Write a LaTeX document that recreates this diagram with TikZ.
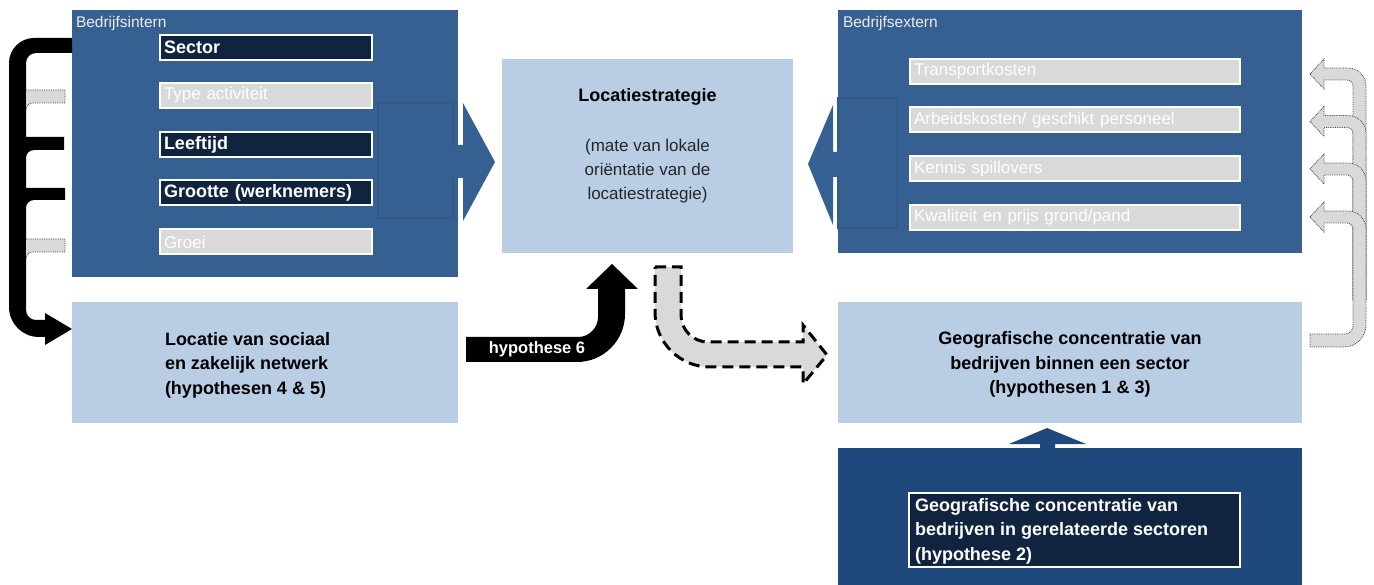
\documentclass[tikz,border=0pt]{standalone}
\usepackage{fontspec}
\setmainfont{Liberation Sans}
\definecolor{midblue}{HTML}{376092}
\definecolor{deepblue}{HTML}{1F497D}
\definecolor{navy}{HTML}{10243F}
\definecolor{paleblue}{HTML}{B9CDE5}
\definecolor{softgrey}{HTML}{D9D9D9}
\newcommand{\boldtext}{\fontsize{18}{24.5}\selectfont\bfseries}
\newcommand{\plaintext}{\fontsize{17}{24}\selectfont}
\begin{document}
\begin{tikzpicture}[x=1pt,y=-1pt,
  every node/.style={inner sep=0pt,outer sep=0pt},
  panel/.style={fill=midblue,draw=none},
  lightpanel/.style={fill=paleblue,draw=none},
  darktag/.style={fill=navy,draw=white,line width=2pt,anchor=west,
    minimum height=25pt,text width=204pt,inner xsep=4pt,align=left,
    text=white,font=\boldtext},
  greytag/.style={fill=softgrey,draw=white,line width=2pt,anchor=west,
    minimum height=25pt,inner xsep=4pt,align=left,
    text=white,font=\plaintext},
  tailbox/.style={fill=midblue,draw=midblue!93!black,line width=1.2pt},
  blockarrow/.style={fill=midblue,draw=none},
  greyarrow/.style={fill=softgrey,draw=black!75,line width=0.8pt,densely dotted},
  boldlabel/.style={font=\boldtext,text=black},
  plainlabel/.style={font=\plaintext,text=black!85},
  cornerlabel/.style={font=\fontsize{15.5}{18}\selectfont,text=white!92!black,anchor=west}]

\useasboundingbox (0,0) rectangle (1374,585);

% ---- panels ----
\node[panel,minimum width=386pt,minimum height=267pt] (intern) at (265,143.5) {};
\node[panel,minimum width=464pt,minimum height=243pt] (extern) at (1070,131.5) {};
\node[lightpanel,minimum width=291pt,minimum height=194pt] (strategy) at (647.5,156) {};
\node[lightpanel,minimum width=386pt,minimum height=121pt] (network) at (265,362.5) {};
\node[lightpanel,minimum width=464pt,minimum height=121pt] (cluster) at (1070,362.5) {};
\node[fill=deepblue,minimum width=464pt,minimum height=137pt] (related) at (1070,516.5) {};

\node[cornerlabel] (internlabel) at (76,23) {Bedrijfsintern};
\node[cornerlabel] (externlabel) at (843,23) {Bedrijfsextern};

% ---- block arrows into the strategy panel ----
\node[tailbox,minimum width=75pt,minimum height=115pt] (lefttail) at (415.5,160.5) {};
\fill[blockarrow] (440,145) -- (463,145) -- (463,103) -- (495,162) -- (463,221) -- (463,178) -- (440,178) -- cycle;
\node[tailbox,minimum width=59pt,minimum height=130pt] (righttail) at (867.5,163) {};
\fill[blockarrow] (860,152) -- (833,152) -- (833,105) -- (808,164) -- (833,225) -- (833,177) -- (860,177) -- cycle;

% ---- internal factors ----
\node[darktag] (sector) at (160,47.5) {Sector};
\node[greytag,text width=204pt] (type) at (160,95.5) {Type activiteit};
\node[darktag] (age) at (160,145) {Leeftijd};
\node[darktag] (size) at (160,193) {Grootte (werknemers)};
\node[greytag,text width=204pt] (growth) at (160,242) {Groei};

% ---- external factors ----
\node[greytag,text width=322pt] (transport) at (910,71.5) {Transportkosten};
\node[greytag,text width=322pt] (labour) at (910,120) {Arbeidskosten/ geschikt personeel};
\node[greytag,text width=322pt] (knowledge) at (910,169) {Kennis spillovers};
\node[greytag,text width=322pt] (land) at (910,217.5) {Kwaliteit en prijs grond/pand};

% ---- panel texts ----
\node[boldlabel] (strategytitle) at (647.5,97) {Locatiestrategie};
\node[plainlabel,align=center] (strategybody) at (647.5,171) {(mate van lokale\\oriëntatie van de\\locatiestrategie)};
\node[boldlabel,align=left,anchor=west] (networktext) at (165,365) {Locatie van sociaal\\en zakelijk netwerk\\(hypothesen 4 \& 5)};
\node[boldlabel,align=center] (clustertext) at (1070,364.5) {Geografische concentratie van\\bedrijven binnen een sector\\(hypothesen 1 \& 3)};
\node[fill=navy,draw=white,line width=2pt,minimum width=331pt,minimum height=74pt] (relatedbox) at (1074.5,530) {};
\node[boldlabel,text=white,align=left,anchor=west] (relatedtext) at (915,531) {Geografische concentratie van\\bedrijven in gerelateerde sectoren\\(hypothese 2)};

% ---- upward arrow from related sectors ----
\fill[fill=deepblue] (1040,450) -- (1040,444) -- (1009,444) -- (1047,428) -- (1086,444) -- (1055,444) -- (1055,450) -- cycle;

% ---- left bracket: internal factors feed the network ----
\fill[black] (72,38) -- (72,53) -- (36,53) .. controls (30.5,53) and (26,57.5) .. (26,63)
  -- (26,137) -- (64,137) -- (64,150) -- (34,150) .. controls (29.6,150) and (26,153.6) .. (26,158)
  -- (26,188) -- (65,188) -- (65,200) -- (34,200) .. controls (29.6,200) and (26,203.6) .. (26,208)
  -- (26,310) .. controls (26,315.5) and (30.5,320) .. (36,320) -- (45,320) -- (45,313) -- (72,329)
  -- (45,345) -- (45,337) -- (39,337) .. controls (22.4,337) and (9,323.6) .. (9,307)
  -- (9,63) .. controls (9,49.2) and (20.2,38) .. (34,38) -- cycle;
\filldraw[greyarrow] (26,90) -- (65,90) -- (65,103) -- (33,103) .. controls (29.1,103) and (26,106.1) .. (26,110);
\filldraw[greyarrow] (26,239) -- (65,239) -- (65,252) -- (33,252) .. controls (29.1,252) and (26,255.1) .. (26,259);

% ---- right bracket: cluster feeds external factors ----
\foreach \c in {74,121.5,169}{
  \filldraw[greyarrow] (1310,\c) -- (1324,\c-15) -- (1324,\c-6) -- (1348,\c-6)
    .. controls (1357.9,\c-6) and (1366,\c+2.1) .. (1366,\c+12) -- (1366,300) -- (1353,300)
    -- (1353,\c+12) .. controls (1353,\c+8.7) and (1350.3,\c+6) .. (1347,\c+6)
    -- (1324,\c+6) -- (1324,\c+15) -- cycle;
}
\filldraw[greyarrow] (1310,217) -- (1324,202) -- (1324,211) -- (1348,211)
  .. controls (1357.9,211) and (1366,219.1) .. (1366,229) -- (1366,325)
  .. controls (1366,337.2) and (1356.2,347) .. (1344,347) -- (1310,347) -- (1310,334) -- (1345,334)
  .. controls (1349.4,334) and (1353,330.4) .. (1353,326) -- (1353,229)
  .. controls (1353,225.7) and (1350.3,223) .. (1347,223) -- (1324,223) -- (1324,232) -- cycle;

% ---- hypothese 6: network to strategy ----
\fill[black] (466,337) -- (578,337) .. controls (589,337) and (598,328) .. (598,317) -- (598,289)
  -- (586,289) -- (612,264) -- (638,289) -- (625,289) -- (625,314)
  .. controls (625,340.5) and (603.5,362) .. (577,362) -- (466,362) -- cycle;
\node[font=\fontsize{16.5}{18}\selectfont\bfseries,text=white] (hyp6) at (537,349) {hypothese 6};

% ---- dashed feedback: strategy to cluster ----
\filldraw[fill=softgrey,draw=black,line width=3pt,dash pattern=on 11pt off 6pt]
  (655,267) -- (681,267) -- (681,315) .. controls (681,329.9) and (693.1,342) .. (708,342)
  -- (803,342) -- (803,325) -- (827,355) -- (803,384) -- (803,367) -- (710,367)
  .. controls (679.6,367) and (655,342.4) .. (655,312) -- cycle;
\end{tikzpicture}
\end{document}
